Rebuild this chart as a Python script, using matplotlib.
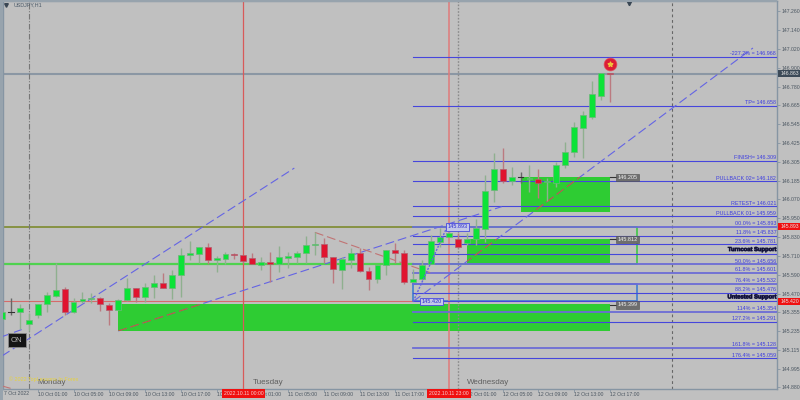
import matplotlib
matplotlib.use('Agg')
import matplotlib.pyplot as plt
import matplotlib.patheffects as pe
from matplotlib.patches import Rectangle

plt.rcParams['font.family'] = ['Liberation Sans', 'DejaVu Sans']

# hourly candles
opens = [145.309, 145.351, 145.353, 145.277, 145.334, 145.404, 145.454, 145.501, 145.355, 145.423,
         145.433, 145.442, 145.399, 145.368, 145.429, 145.503, 145.450, 145.513, 145.537, 145.507,
         145.587, 145.714, 145.722, 145.767, 145.684, 145.691, 145.722, 145.714, 145.693, 145.653,
         145.667, 145.659, 145.697, 145.701, 145.729, 145.779, 145.786, 145.701, 145.621, 145.682,
         145.729, 145.613, 145.562, 145.653, 145.746, 145.729, 145.545, 145.560, 145.659, 145.798,
         145.826, 145.813, 145.788, 145.813, 145.878, 146.125, 146.256, 146.184, 146.207, 146.197,
         146.193, 146.176, 146.167, 146.283, 146.364, 146.520, 146.589, 146.720, 146.868]
closes = [145.355, 145.351, 145.376, 145.302, 145.404, 145.461, 145.490, 145.353, 145.418, 145.435,
          145.444, 145.402, 145.366, 145.427, 145.505, 145.446, 145.513, 145.537, 145.505, 145.587,
          145.714, 145.724, 145.767, 145.682, 145.695, 145.718, 145.716, 145.676, 145.657, 145.667,
          145.655, 145.701, 145.705, 145.729, 145.777, 145.786, 145.699, 145.623, 145.686, 145.724,
          145.610, 145.562, 145.651, 145.743, 145.727, 145.543, 145.562, 145.651, 145.802, 145.826,
          145.851, 145.767, 145.813, 145.887, 146.121, 146.256, 146.182, 146.206, 146.207, 146.203,
          146.167, 146.182, 146.283, 146.368, 146.522, 146.598, 146.731, 146.868, 146.862]
highs = [145.366, 145.440, 145.404, 145.345, 145.404, 145.482, 145.661, 145.509, 145.440, 145.482,
         145.471, 145.450, 145.408, 145.433, 145.566, 145.503, 145.535, 145.585, 145.598, 145.619,
         145.756, 145.800, 145.767, 145.790, 145.710, 145.735, 145.724, 145.714, 145.729, 145.699,
         145.735, 145.771, 145.735, 145.739, 145.834, 145.857, 145.819, 145.701, 145.699, 145.756,
         145.760, 145.640, 145.651, 145.746, 145.792, 145.746, 145.623, 145.682, 145.840, 145.883,
         145.893, 145.851, 145.851, 145.940, 146.220, 146.361, 146.391, 146.271, 146.241, 146.283,
         146.256, 146.199, 146.304, 146.427, 146.556, 146.627, 146.815, 146.868, 146.868]
lows = [145.288, 145.334, 145.243, 145.233, 145.313, 145.355, 145.450, 145.334, 145.345, 145.408,
        145.408, 145.361, 145.269, 145.366, 145.425, 145.418, 145.418, 145.444, 145.503, 145.437,
        145.446, 145.682, 145.661, 145.657, 145.604, 145.657, 145.689, 145.661, 145.655, 145.619,
        145.545, 145.608, 145.634, 145.661, 145.661, 145.714, 145.661, 145.535, 145.497, 145.629,
        145.608, 145.492, 145.535, 145.587, 145.665, 145.530, 145.541, 145.556, 145.657, 145.767,
        145.826, 145.756, 145.777, 145.777, 145.798, 146.051, 146.169, 146.157, 146.169, 146.114,
        146.073, 146.058, 146.146, 146.262, 146.334, 146.330, 146.573, 146.695, 146.684]

# fibo / target levels on the right
level_prices = [146.968, 146.658, 146.309, 146.182, 146.021, 145.959, 145.893, 145.837, 145.781,
                145.656, 145.601, 145.532, 145.476, 145.354, 145.291, 145.128, 145.059]
level_names = ['-227.2% = 146.968', 'TP= 146.658', 'FINISH= 146.309', 'PULLBACK 02= 146.182',
               'RETEST= 146.021', 'PULLBACK 01= 145.959', '00.0% = 145.893', '11.8% = 145.837',
               '23.6% = 145.781', '50.0% = 145.656', '61.8% = 145.601', '76.4% = 145.532',
               '88.2% = 145.476', '114% = 145.354', '127.2% = 145.291', '161.8% = 145.128',
               '176.4% = 145.059']
soft_levels = [145.893, 145.656, 145.601, 145.532, 145.354, 145.128]
turncoat = 145.72
untested = 145.42
bid = 146.862

# zones as (first bar, low, high)
zone_a = (13, 145.235, 145.402)
zone_b = (52, 145.656, 145.812)
zone_c = (58, 145.985, 146.205)
zone_end = 68
box_end = 71
box_green = (46, 145.656, 145.893)
box_blue = (46, 145.42, 145.532)

# trend lines
up_x = [0, 32.7]
up_y = [145.075, 146.264]
stub_x = [0, 2.2]
stub_y = [145.197, 145.242]
mid_x = [13, 55.9]
mid_y = [145.233, 146.02]
long_x = [46, 84]
long_y = [145.42, 147.024]
fib_x = [46, 49.8]
fib_y = [145.42, 145.893]
red_x = [35, 47.9]
red_y = [145.857, 145.602]
corner_x = [0, 0.9]
corner_y = [144.885, 144.871]

ytick_vals = [147.26, 147.14, 147.02, 146.90, 146.78, 146.665, 146.545, 146.425, 146.305, 146.185,
              146.07, 145.95, 145.83, 145.71, 145.59, 145.47, 145.355, 145.235, 145.115, 144.995,
              144.88]
xtick_pos = list(range(4, 69, 4))
xtick_text = ['10 Oct 01:00', '10 Oct 05:00', '10 Oct 09:00', '10 Oct 13:00', '10 Oct 17:00',
              '10 Oct 21:00', '11 Oct 01:00', '11 Oct 05:00', '11 Oct 09:00', '11 Oct 13:00',
              '11 Oct 17:00', '11 Oct 21:00', '12 Oct 01:00', '12 Oct 05:00', '12 Oct 09:00',
              '12 Oct 13:00', '12 Oct 17:00']

BG = '#c0c0c0'
AXC = '#8695a3'
BLUE = '#4646dc'
DASH = '#6464e4'
ZONE = '#2ecc33'
LW_DASH = (0, (8, 3.5))
AXFONT = 3.7

fig = plt.figure(figsize=(8, 4), dpi=100, facecolor=BG)
ax = fig.add_axes([2.5 / 800, 1 - 388.5 / 400, 774.5 / 800, 387.5 / 400], facecolor=BG)
ax.set_xlim(0.056, 86.69)
ax.set_ylim(144.869, 147.3214)

# frame strips on the left and top of the window
fig.add_artist(Rectangle((0, 0), 2.5 / 800, 1, fc='#97a3ad', ec='none', transform=fig.transFigure))
fig.add_artist(Rectangle((0, 1 - 1.5 / 400), 777 / 800, 1.5 / 400, fc='#97a3ad', ec='none', transform=fig.transFigure))

# zones
zones = []
for first, lo, hi in [zone_a, zone_b, zone_c]:
    r = Rectangle((first, lo), zone_end - first, hi - lo, fc=ZONE, ec='none', zorder=1)
    ax.add_patch(r)
    zones.append(r)

# long horizontals on the left
ax.plot([0, 46], [145.893, 145.893], color='#7d8a2e', lw=1.2, zorder=2)
ax.plot([0, 46], [145.656, 145.656], color='#4fd24f', lw=1.6, zorder=2)
ax.plot([0, 46], [untested, untested], color='#d66a6a', lw=0.8, zorder=2)
ax.axhline(bid, color='#8b97a4', lw=1.5, zorder=2)

# outlined boxes
ax.plot([box_green[0], box_end, box_end, box_green[0]],
        [box_green[2], box_green[2], box_green[1], box_green[1]],
        color='#34c83c', lw=1.1, zorder=2)
ax.plot([box_blue[0], box_end, box_end, box_blue[0], box_blue[0]],
        [box_blue[2], box_blue[2], box_blue[1], box_blue[1], box_blue[2]],
        color='#3f7fd0', lw=1.2, zorder=2)

# verticals
ax.axvline(27, color='#d85a5a', lw=0.9, zorder=2)
ax.axvline(50, color='#e07a7a', lw=1.1, zorder=2)
ax.axvline(51, color='#8a8a8a', lw=1.0, ls=(0, (1.2, 1.2)), zorder=2)
ax.axvline(3, color='#777777', lw=0.8, ls=(0, (5, 1.5, 1, 1.5)), zorder=2)
ax.axvline(75, color='#666666', lw=0.8, ls=(0, (2.5, 2.5)), zorder=2)

# fibo levels
for p in level_prices + [turncoat, untested]:
    if p in soft_levels:
        ax.plot([46, 86.69], [p, p], color='#6c6cd6', lw=1.3, zorder=3)
    else:
        ax.plot([46, 86.69], [p, p], color=BLUE, lw=0.8, zorder=3)
for p, name in zip(level_prices, level_names):
    ax.annotate(name, (86.6, p), xytext=(0, 3), textcoords='offset pixels', ha='right', va='center',
                fontsize=3.9, color='#3c3ce0', zorder=6)
for p, name in [(turncoat, 'Turncoat Support'), (untested, 'Untested Support')]:
    t = ax.annotate(name, (86.69, p), xytext=(0, 4.5), textcoords='offset pixels', ha='right', va='center',
                    fontsize=4.2, color='#0c0c20', fontweight='bold', zorder=6)
    t.set_path_effects([pe.withStroke(linewidth=0.6, foreground='#30306a')])

# trend lines
for xs, ys in [(up_x, up_y), (stub_x, stub_y), (mid_x, mid_y), (long_x, long_y)]:
    ax.plot(xs, ys, color=DASH, lw=0.8, ls=LW_DASH, zorder=4)
ax.plot(fib_x, fib_y, color=DASH, lw=1.0, ls=(0, (1.5, 1)), zorder=7)
ax.plot(red_x, red_y, color='#c07474', lw=0.8, ls=LW_DASH, zorder=4)
ax.plot(corner_x, corner_y, color='#c07474', lw=0.8, zorder=4)
# the same lines turn orange where they cross a zone
for xs, ys, zone in [(mid_x, mid_y, zones[0]), (long_x, long_y, zones[1]), (long_x, long_y, zones[2])]:
    ln, = ax.plot(xs, ys, color='#b86a2a', lw=0.8, ls=LW_DASH, zorder=4.5)
    ln.set_clip_path(zone)

# candles
for i in range(len(opens)):
    o, c, h, l = opens[i], closes[i], highs[i], lows[i]
    if c > o:
        body, wick, edge = '#0ce338', '#8fb08f', '#6fb57a'
    elif c < o:
        body, wick, edge = '#e0142f', '#bb7a80', '#b06070'
    else:
        body, wick, edge = '#333333', '#666666', '#333333'
    ax.vlines(i, l, h, color=wick, lw=1.0, zorder=5)
    if c == o:
        ax.plot([i - 0.3, i + 0.3], [c, c], color=body, lw=0.8, zorder=5)
    else:
        ax.bar(i, abs(c - o), bottom=min(o, c), width=0.66, color=body, edgecolor=edge, lw=0.5, zorder=5)

# signal marker on the last candle
ax.scatter([68], [146.925], s=85, color='#dc1e36', edgecolor='#e05060', lw=0.5, zorder=8)
ax.scatter([68], [146.925], s=12, marker='*', color='#eec23c', zorder=9)

# small price tags beside the zones
for p, name in [(146.205, '146.205'), (145.812, '145.812'), (145.399, '145.399')]:
    ax.plot([68, 68.7], [p, p], color='#333333', lw=0.8, zorder=6)
    ax.text(70, p, name, ha='center', va='center', fontsize=4.0, color='#f2f2f2', zorder=7,
            bbox=dict(boxstyle='square,pad=0.25', fc='#6e6e6e', ec='#505050', lw=0.4))
for x, p, name in [(51, 145.893, '145.893'), (48.05, 145.42, '145.420')]:
    ax.text(x, p, name, ha='center', va='center', fontsize=4.0, color='#2a2ad0', zorder=7,
            bbox=dict(boxstyle='square,pad=0.25', fc='#c4c8e8', ec='#4a4ae0', lw=0.6))

# ON button, watermark, weekday names
ax.text(1.66, 145.173, 'ON', ha='center', va='center', fontsize=5.6, color='#b8b8b8', zorder=9,
        bbox=dict(boxstyle='square,pad=0.45', fc='#141414', ec='#8a8a8a', lw=0.6))
ax.text(0.75, 144.93, '\u00a9 2022 TopLessons In Forex', ha='left', va='center', fontsize=3.9,
        color='#e8d23c', zorder=9)
for x, name in [(4, 'Monday'), (28, 'Tuesday'), (52, 'Wednesday')]:
    ax.text(x, 144.905, name, ha='left', va='center', fontsize=5.8, color='#5f5f5f', zorder=8)

# header
ax.text(11 / 774.5, 1 - 4 / 387.5, 'USDJPY,H1', transform=ax.transAxes, ha='left', va='center',
        fontsize=3.9, color='#4c5b6a', zorder=9)
ax.plot([3 / 774.5], [1 - 4 / 387.5], marker='v', ms=2.6, color='#3a4754', transform=ax.transAxes, zorder=9)
ax.plot([70.1], [1 - 1.5 / 387.5], marker='v', ms=3.2, color='#3a4754',
        transform=ax.get_xaxis_transform(), clip_on=False, zorder=9)

# axes
ax.set_yticks(ytick_vals)
ax.set_yticklabels(['%.3f' % v for v in ytick_vals])
ax.yaxis.tick_right()
ax.tick_params(axis='y', length=2, width=0.6, color=AXC, labelsize=AXFONT, labelcolor='#4b5661', pad=1)
ax.set_xticks(xtick_pos)
ax.set_xticklabels(xtick_text, ha='left')
ax.tick_params(axis='x', length=2, width=0.6, color=AXC, labelsize=AXFONT, labelcolor='#4b5661', pad=0.5)
ax.text(0.25, -0.0125, '7 Oct 2022', transform=ax.get_xaxis_transform(), ha='left', va='center',
        fontsize=AXFONT, color='#4b5661', clip_on=False)
for side in ax.spines:
    ax.spines[side].set_color(AXC)
    ax.spines[side].set_linewidth(1.0)

# date tags over the axis
for x, name in [(27, '2022.10.11 00:00'), (50, '2022.10.11 23:00')]:
    ax.text(x, -0.0125, name, transform=ax.get_xaxis_transform(), ha='center', va='center', fontsize=3.7,
            color='#f6d0d0', zorder=20, clip_on=False,
            bbox=dict(boxstyle='square,pad=0.35', fc='#f01010', ec='none'))

# price tags over the axis
for p, name, fc in [(145.893, '145.893', '#f01010'), (145.42, '145.420', '#f01010'), (bid, '146.863', '#3c4a58')]:
    ax.add_patch(Rectangle((1.001, p - 0.024), 0.03, 0.048, fc=fc, ec='none', clip_on=False, zorder=20,
                           transform=ax.get_yaxis_transform()))
    ax.text(1.0045, p, name, transform=ax.get_yaxis_transform(), ha='left', va='center', fontsize=AXFONT,
            color='#e8e8e8', clip_on=False, zorder=21)

fig.savefig('out.png', dpi=100, facecolor=BG)
